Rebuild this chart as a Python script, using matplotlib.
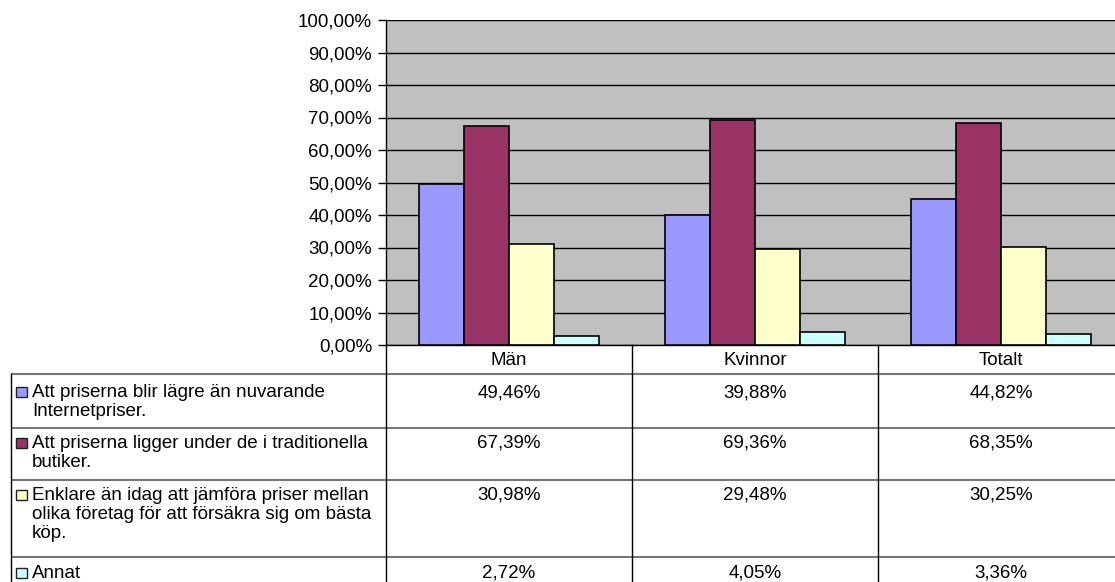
import matplotlib
matplotlib.use("Agg")
import matplotlib.pyplot as plt
from matplotlib.patches import Rectangle
from matplotlib.transforms import blended_transform_factory

# data
groups = ["Män", "Kvinnor", "Totalt"]
series_labels = [
    "Att priserna blir lägre än nuvarande\nInternetpriser.",
    "Att priserna ligger under de i traditionella\nbutiker.",
    "Enklare än idag att jämföra priser mellan\nolika företag för att försäkra sig om bästa\nköp.",
    "Annat",
]
lower_prices = [49.46, 39.88, 44.82]
below_stores = [67.39, 69.36, 68.35]
easier_compare = [30.98, 29.48, 30.25]
other = [2.72, 4.05, 3.36]
series_values = [lower_prices, below_stores, easier_compare, other]
colors = ["#9999FF", "#993366", "#FFFFCC", "#CCFFFF"]
y_ticks = [0, 10, 20, 30, 40, 50, 60, 70, 80, 90, 100]

plt.rcParams["font.family"] = ["Liberation Sans", "DejaVu Sans"]
FS = 13.5

W, H = 1115, 582
fig = plt.figure(figsize=(W / 100, H / 100), dpi=100)

# plot area in pixel layout (right edge runs past the image)
left, right, top, bottom = 386, 1124, 20, 345
ax = fig.add_axes([left / W, 1 - bottom / H, (right - left) / W, (bottom - top) / H])
ax.set_facecolor("#C0C0C0")

bw = 0.182
xs = range(len(groups))
for k, (vals, c) in enumerate(zip(series_values, colors)):
    ax.bar([x + (k - 1.5) * bw for x in xs], vals, width=bw, color=c,
           edgecolor="black", linewidth=1.2, zorder=3)

ax.set_xlim(-0.5, len(groups) - 0.5)
ax.set_ylim(0, 100)
ax.set_yticks(y_ticks)
ax.set_yticklabels([f"{v:.2f}".replace(".", ",") + "%" for v in y_ticks], fontsize=FS)
ax.yaxis.grid(True, color="black", linewidth=1)
ax.set_axisbelow(True)
ax.tick_params(axis="y", length=6, width=1, pad=4)
ax.set_xticks(list(xs))
ax.set_xticklabels(groups, fontsize=FS)
ax.tick_params(axis="x", length=0, pad=5)
for s in ["top", "right"]:
    ax.spines[s].set_visible(False)
ax.spines["left"].set_linewidth(1)
ax.spines["bottom"].set_linewidth(1)

# table overlay in pixel coordinates
tab = fig.add_axes([0, 0, 1, 1])
tab.set_xlim(0, W)
tab.set_ylim(H, 0)
tab.axis("off")
tab.patch.set_visible(False)

row_lines = [374, 428, 480, 557]
row_text_y = [384, 435, 487, 565]
for y in row_lines:
    tab.plot([11, right], [y, y], color="#777777", lw=1.5, solid_capstyle="butt")
tab.plot([11, 11], [374, H + 5], color="black", lw=1)
tab.plot([left, left], [bottom, H + 5], color="black", lw=1)

mix = blended_transform_factory(ax.transData, tab.transData)
for d in [0.5, 1.5]:
    tab.plot([d, d], [bottom, H + 5], color="black", lw=1, transform=mix)

for r, (lab, vals, c) in enumerate(zip(series_labels, series_values, colors)):
    ty = row_text_y[r]
    tab.add_patch(Rectangle((16, ty + 3), 11, 10, facecolor=c, edgecolor="#222222", lw=1))
    tab.text(32, ty, lab, fontsize=FS, ha="left", va="top", linespacing=1.16)
    for i, v in enumerate(vals):
        tab.text(i, ty, f"{v:.2f}".replace(".", ",") + "%", fontsize=FS,
                 ha="center", va="top", transform=mix)

fig.savefig("out.png", dpi=100)
